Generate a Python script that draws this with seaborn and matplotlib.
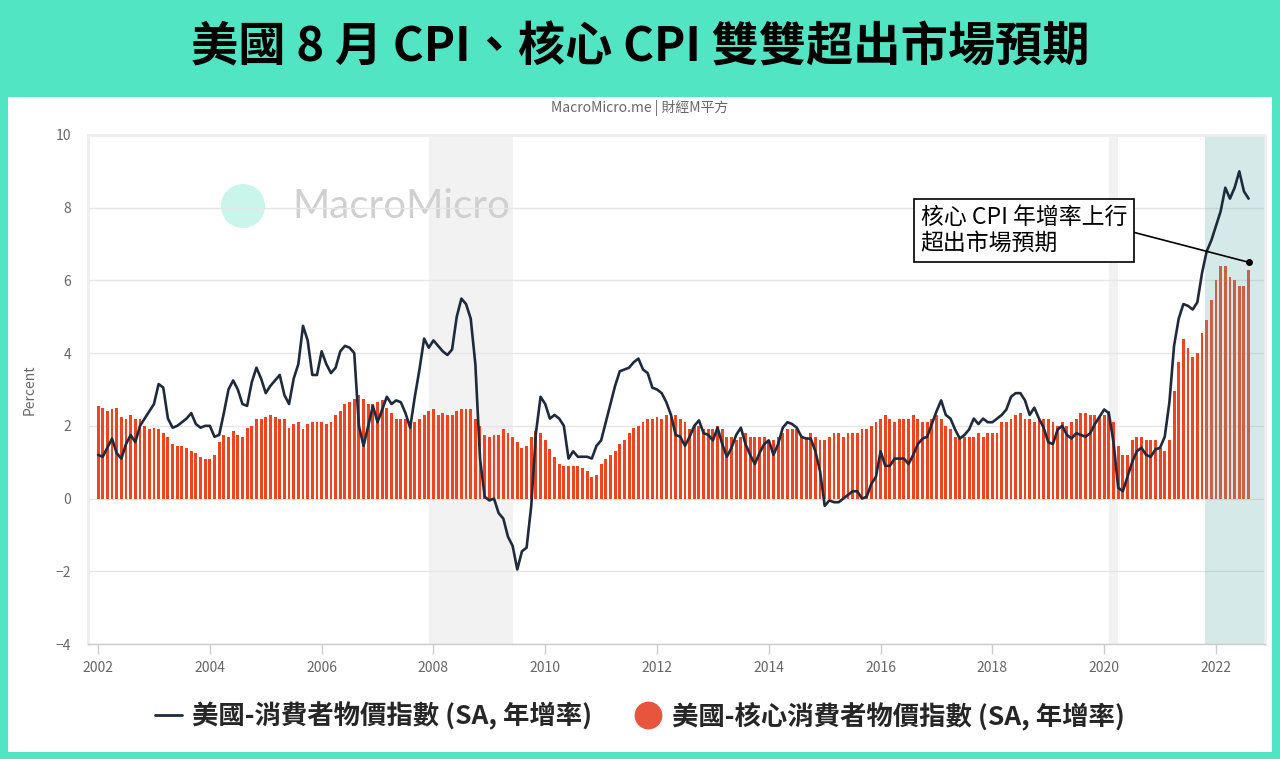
import numpy as np
import pandas as pd
import matplotlib
matplotlib.use("Agg")
import matplotlib.pyplot as plt
from matplotlib.patches import Rectangle, Circle
from matplotlib.lines import Line2D
import seaborn as sns

# --- data: US CPI YoY (SA) and core CPI YoY, monthly from 2002-01 to 2022-08 ---
cpi_yoy = [
    1.2, 1.15, 1.4, 1.65, 1.25, 1.1, 1.5, 1.75, 1.55, 2.0, 2.2, 2.4,       # 2002
    2.6, 3.15, 3.05, 2.2, 1.95, 2.0, 2.1, 2.2, 2.35, 2.05, 1.95, 2.0,     # 2003
    2.0, 1.7, 1.75, 2.35, 3.0, 3.25, 3.0, 2.6, 2.55, 3.2, 3.6, 3.3,       # 2004
    2.9, 3.1, 3.25, 3.4, 2.85, 2.6, 3.3, 3.7, 4.75, 4.35, 3.4, 3.4,       # 2005
    4.05, 3.7, 3.45, 3.6, 4.05, 4.2, 4.15, 4.0, 2.0, 1.45, 2.0, 2.55,     # 2006
    2.1, 2.45, 2.8, 2.6, 2.7, 2.65, 2.35, 1.95, 2.8, 3.55, 4.4, 4.15,     # 2007
    4.35, 4.2, 4.05, 3.95, 4.1, 5.0, 5.5, 5.35, 4.95, 3.7, 1.1, 0.05,     # 2008
    -0.05, 0.0, -0.4, -0.55, -1.05, -1.3, -1.95, -1.45, -1.35, -0.2, 1.8, 2.8,  # 2009
    2.6, 2.2, 2.3, 2.2, 2.0, 1.1, 1.3, 1.15, 1.15, 1.15, 1.1, 1.45,       # 2010
    1.6, 2.1, 2.6, 3.1, 3.5, 3.55, 3.6, 3.75, 3.85, 3.55, 3.45, 3.05,     # 2011
    3.0, 2.9, 2.65, 2.3, 1.75, 1.7, 1.45, 1.7, 2.0, 2.15, 1.8, 1.75,      # 2012
    1.6, 1.95, 1.5, 1.15, 1.4, 1.75, 1.95, 1.5, 1.2, 0.95, 1.25, 1.5,     # 2013
    1.6, 1.2, 1.5, 1.95, 2.1, 2.05, 1.95, 1.7, 1.65, 1.65, 1.3, 0.75,     # 2014
    -0.2, -0.05, -0.1, -0.1, 0.0, 0.1, 0.2, 0.2, 0.0, 0.05, 0.4, 0.6,     # 2015
    1.3, 0.9, 0.9, 1.1, 1.1, 1.1, 0.95, 1.2, 1.5, 1.65, 1.7, 2.05,        # 2016
    2.4, 2.7, 2.3, 2.2, 1.9, 1.65, 1.75, 1.9, 2.2, 2.05, 2.2, 2.1,        # 2017
    2.1, 2.2, 2.3, 2.45, 2.8, 2.9, 2.9, 2.7, 2.3, 2.5, 2.2, 1.95,         # 2018
    1.55, 1.5, 1.9, 2.0, 1.75, 1.65, 1.8, 1.75, 1.7, 1.8, 2.05, 2.25,     # 2019
    2.45, 2.35, 1.55, 0.3, 0.2, 0.6, 1.0, 1.3, 1.4, 1.2, 1.15, 1.35,      # 2020
    1.4, 1.7, 2.65, 4.2, 4.95, 5.35, 5.3, 5.2, 5.4, 6.2, 6.8, 7.1,        # 2021
    7.5, 7.9, 8.55, 8.25, 8.55, 9.0, 8.45, 8.25,                          # 2022
]
core_yoy = [
    2.55, 2.5, 2.4, 2.45, 2.5, 2.25, 2.2, 2.3, 2.2, 2.2, 2.0, 1.9,        # 2002
    1.95, 1.9, 1.8, 1.7, 1.5, 1.45, 1.45, 1.4, 1.3, 1.25, 1.15, 1.1,      # 2003
    1.1, 1.2, 1.55, 1.75, 1.7, 1.85, 1.75, 1.7, 1.95, 2.0, 2.2, 2.2,      # 2004
    2.25, 2.3, 2.25, 2.2, 2.2, 1.95, 2.05, 2.1, 1.9, 2.05, 2.1, 2.1,      # 2005
    2.1, 2.05, 2.1, 2.3, 2.4, 2.6, 2.65, 2.75, 2.85, 2.75, 2.6, 2.6,      # 2006
    2.65, 2.7, 2.5, 2.35, 2.2, 2.2, 2.2, 2.1, 2.1, 2.2, 2.3, 2.4,         # 2007
    2.45, 2.3, 2.35, 2.3, 2.3, 2.4, 2.45, 2.45, 2.45, 2.2, 2.0, 1.75,     # 2008
    1.7, 1.75, 1.75, 1.9, 1.8, 1.7, 1.55, 1.4, 1.45, 1.7, 1.85, 1.8,      # 2009
    1.6, 1.35, 1.15, 0.95, 0.9, 0.9, 0.9, 0.9, 0.85, 0.75, 0.6, 0.65,     # 2010
    0.95, 1.1, 1.2, 1.3, 1.5, 1.6, 1.8, 1.95, 2.0, 2.1, 2.2, 2.2,         # 2011
    2.25, 2.2, 2.3, 2.3, 2.3, 2.2, 2.1, 1.9, 2.0, 2.0, 1.9, 1.9,          # 2012
    1.9, 2.0, 1.9, 1.7, 1.7, 1.6, 1.7, 1.8, 1.7, 1.7, 1.7, 1.7,           # 2013
    1.6, 1.6, 1.7, 1.8, 1.9, 1.9, 1.9, 1.7, 1.7, 1.8, 1.7, 1.6,           # 2014
    1.6, 1.7, 1.8, 1.8, 1.7, 1.8, 1.8, 1.8, 1.9, 1.9, 2.0, 2.1,           # 2015
    2.2, 2.3, 2.2, 2.1, 2.2, 2.2, 2.2, 2.3, 2.2, 2.1, 2.1, 2.2,           # 2016
    2.3, 2.2, 2.0, 1.9, 1.7, 1.7, 1.7, 1.7, 1.7, 1.8, 1.7, 1.8,           # 2017
    1.8, 1.8, 2.1, 2.1, 2.2, 2.3, 2.35, 2.2, 2.2, 2.1, 2.2, 2.2,          # 2018
    2.2, 2.1, 2.0, 2.1, 2.0, 2.1, 2.2, 2.35, 2.35, 2.3, 2.3, 2.25,        # 2019
    2.3, 2.4, 2.1, 1.45, 1.2, 1.2, 1.6, 1.7, 1.7, 1.6, 1.6, 1.6,          # 2020
    1.4, 1.3, 1.6, 2.95, 3.75, 4.4, 4.15, 3.9, 4.0, 4.55, 4.9, 5.45,      # 2021
    6.0, 6.4, 6.4, 6.1, 6.0, 5.85, 5.85, 6.3,                             # 2022
]
recessions = [(2007.917, 2009.417), (2020.083, 2020.25)]
highlight = (2021.80, 2023.0)
note_point = (2022 + 7 / 12, 6.5)
note_text = "核心 CPI 年增率上行\n超出市場預期"

months = pd.date_range("2002-01-01", periods=len(cpi_yoy), freq="MS")
df = pd.DataFrame({
    "year": np.round(months.year + (months.month - 1) / 12, 4),
    "cpi": cpi_yoy,
    "core": core_yoy,
})

sns.set_theme(style="white")
plt.rcParams["font.family"] = ["Noto Sans CJK TC", "DejaVu Sans"]

fig = plt.figure(figsize=(12.8, 7.59), dpi=100)
fig.patch.set_facecolor("#52e5c4")
# white card under the chart
fig.patches.append(Rectangle((8 / 1280, 7 / 759), 1264 / 1280, 655 / 759,
                             transform=fig.transFigure, facecolor="white",
                             edgecolor="none", zorder=-10))

ax = fig.add_axes([88 / 1280, 1 - 644 / 759, 1177 / 1280, 509 / 759])
ax.set_facecolor("none")

for x0, x1 in recessions:
    ax.axvspan(x0, x1, color="#f2f2f2", zorder=0, lw=0)

# watermark: above the shaded bands, below grid and data
ax.add_patch(Circle((2.43, (759 - 206) / 100), 0.22,
                    transform=fig.dpi_scale_trans, facecolor="#c9f5ea",
                    edgecolor="none", zorder=0.2, clip_on=False))
ax.text(292 / 1280, 1 - 207 / 759, "MacroMicro", transform=fig.transFigure,
        fontsize=29, color="#d0d0d0", family=["Lato", "DejaVu Sans"],
        va="center", ha="left", zorder=0.2)

# core CPI bars
sns.barplot(data=df, x="year", y="core", native_scale=True, width=0.62,
            color="#f0431f", saturation=1, linewidth=0, errorbar=None,
            ax=ax, zorder=2)

# highlighted recent period, drawn over the bars
ax.axvspan(*highlight, color=(100 / 255, 180 / 255, 170 / 255), alpha=0.27,
           zorder=2.5, lw=0)

# headline CPI line
sns.lineplot(data=df, x="year", y="cpi", color="#1f2a3c", lw=1.9,
             estimator=None, ax=ax, zorder=3)

ax.set_xlim(2001.82, 2022.877)
ax.set_ylim(-4, 10)
ax.set_yticks(np.arange(-4, 11, 2))
ax.set_xticks(np.arange(2002, 2023, 2))
ax.set_xticklabels([str(y) for y in range(2002, 2023, 2)])
ax.grid(axis="y", color="#e6e6e6", lw=1)
ax.grid(axis="x", visible=False)
ax.set_axisbelow(True)
ax.tick_params(axis="y", length=0, labelsize=10, labelcolor="#666666", pad=12)
ax.tick_params(axis="x", length=7, width=1, color="#cccccc", direction="out",
               labelsize=10, labelcolor="#666666", pad=5, bottom=True)
ax.set_xlabel("")
ax.set_ylabel("Percent", fontsize=10, color="#666666", labelpad=14)
for side in ["left", "right", "top"]:
    ax.spines[side].set_color("#eeeeee")
    ax.spines[side].set_linewidth(2)
ax.spines["bottom"].set_color("#cccccc")
ax.spines["bottom"].set_linewidth(1)

# annotation
ax.plot(*note_point, marker="o", color="black", ms=4, zorder=6)
ax.annotate(note_text, xy=note_point, xytext=(2016.72, 7.37),
            ha="left", va="center", fontsize=16.5, color="black",
            linespacing=1.15, zorder=7,
            bbox=dict(boxstyle="square,pad=0.3", fc="white", ec="black", lw=1.2),
            arrowprops=dict(arrowstyle="-", color="black", lw=1.2,
                            relpos=(1, 0.5), shrinkA=0, shrinkB=0))

# titles
fig.text(0.5, 1 - 47 / 759, "美國 8 月 CPI、核心 CPI 雙雙超出市場預期",
         ha="center", va="center", fontsize=34, fontweight="bold", color="black")
fig.text(0.5, 1 - 108 / 759, "MacroMicro.me | 財經M平方", ha="center", va="center",
         fontsize=10, color="#666666")

# legend
handles = [
    Line2D([0], [0], color="#1f2a3c", lw=2),
    Line2D([0], [0], marker="o", color="none", markerfacecolor="#e8553f",
           markeredgecolor="none", markersize=20),
]
labels = ["美國-消費者物價指數 (SA, 年增率)", "美國-核心消費者物價指數 (SA, 年增率)"]
fig.legend(handles, labels, loc="center", bbox_to_anchor=(0.5, 1 - 716 / 759),
           ncol=2, frameon=False, prop={"size": 19, "weight": "bold"},
           handlelength=1.0, handletextpad=0.4, columnspacing=1.6)

fig.savefig("out.png", dpi=100, facecolor=fig.get_facecolor())
